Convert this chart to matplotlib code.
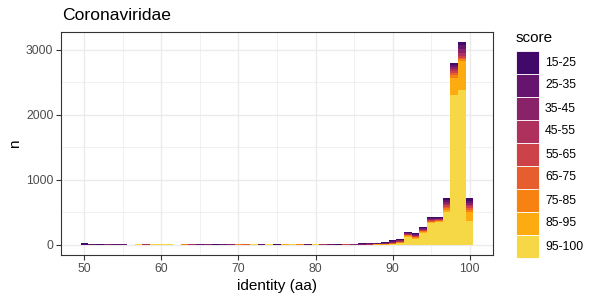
import numpy as np
import matplotlib
matplotlib.use('Agg')
import matplotlib.pyplot as plt
from matplotlib.patches import Rectangle

plt.rcParams['font.family'] = ['Liberation Sans', 'DejaVu Sans']

# identity bins (width 1)
identity = list(range(50, 101))
score_levels = ['15-25', '25-35', '35-45', '45-55', '55-65', '65-75', '75-85', '85-95', '95-100']

# counts per score class, bins 50..100
s15 = [35, 0, 12, 0, 0, 0, 0, 0, 0, 0,
       0, 0, 0, 0, 0, 0, 0, 15, 0, 0,
       0, 0, 0, 0, 0, 12, 0, 0, 0, 0,
       0, 0, 0, 14, 0, 8, 8, 8, 10, 10,
       12, 14, 14, 16, 16, 16, 14, 30, 30, 50, 35]
s25 = [0, 12, 0, 0, 10, 8, 0, 0, 0, 0,
       0, 0, 0, 0, 0, 15, 0, 0, 15, 0,
       0, 0, 0, 12, 0, 0, 0, 0, 0, 12,
       0, 0, 14, 0, 0, 6, 8, 8, 8, 10,
       12, 12, 12, 14, 14, 14, 12, 30, 35, 60, 35]
s35 = [0, 0, 0, 12, 0, 0, 0, 0, 0, 0,
       0, 0, 0, 0, 0, 0, 15, 0, 0, 12,
       0, 0, 0, 0, 0, 0, 0, 0, 0, 0,
       0, 0, 0, 0, 0, 6, 5, 6, 6, 8,
       10, 10, 10, 12, 12, 12, 10, 25, 35, 55, 30]
s45 = [0, 0, 0, 0, 0, 0, 0, 0, 12, 0,
       0, 0, 0, 0, 12, 0, 0, 0, 0, 0,
       0, 0, 0, 0, 0, 0, 0, 0, 0, 0,
       0, 14, 0, 0, 0, 0, 0, 4, 5, 6,
       8, 8, 8, 10, 10, 10, 9, 25, 30, 45, 25]
s55 = [0, 0, 0, 0, 0, 0, 0, 0, 0, 0,
       0, 0, 0, 0, 0, 0, 0, 0, 0, 0,
       0, 0, 0, 0, 0, 0, 0, 0, 0, 0,
       0, 0, 0, 0, 14, 0, 0, 0, 0, 4,
       6, 6, 7, 8, 8, 8, 8, 20, 30, 30, 25]
s65 = [0, 0, 0, 0, 0, 0, 0, 0, 0, 0,
       0, 0, 0, 0, 0, 0, 0, 0, 0, 0,
       0, 12, 0, 0, 0, 0, 0, 0, 0, 0,
       0, 0, 0, 0, 0, 0, 0, 0, 0, 0,
       5, 6, 7, 8, 8, 8, 8, 20, 30, 25, 25]
s75 = [0, 0, 0, 0, 0, 0, 0, 0, 0, 0,
       0, 0, 0, 12, 0, 0, 0, 0, 0, 0,
       12, 0, 0, 0, 0, 0, 0, 0, 12, 0,
       0, 0, 0, 0, 0, 0, 0, 0, 0, 0,
       5, 6, 8, 10, 12, 12, 10, 25, 40, 25, 34]
s85 = [0, 0, 0, 0, 0, 0, 0, 0, 0, 0,
       0, 0, 0, 0, 0, 0, 0, 0, 0, 0,
       0, 0, 0, 0, 0, 0, 12, 0, 0, 0,
       0, 0, 0, 0, 0, 0, 0, 0, 3, 3,
       6, 8, 10, 14, 16, 16, 14, 28, 260, 450, 137]
s95 = [0, 0, 0, 0, 0, 0, 0, 10, 0, 12,
       12, 12, 0, 0, 0, 0, 0, 0, 0, 0,
       0, 0, 12, 0, 12, 0, 0, 12, 0, 0,
       12, 0, 0, 0, 0, 0, 4, 4, 3, 4,
       6, 25, 127, 91, 178, 331, 346, 513, 2310, 2380, 370]

series = [s15, s25, s35, s45, s55, s65, s75, s85, s95]
colors = plt.cm.inferno(np.linspace(0.2, 0.9, 9))

W, H = 600, 300
fig = plt.figure(figsize=(6, 3), dpi=100)
ax = fig.add_axes([61 / W, 1 - 255 / H, (493 - 61) / W, (255 - 32) / H])

# stack: 95-100 at the bottom, 15-25 on top
bottom = np.zeros(len(identity))
for vals, col in list(zip(series, colors))[::-1]:
    v = np.array(vals, dtype=float)
    ax.bar(identity, v, width=1.0, bottom=bottom, color=col, linewidth=0, zorder=3)
    bottom += v

ymax = bottom.max()
ax.set_xlim(49.5 - 0.05 * 51, 100.5 + 0.05 * 51)
ax.set_ylim(-0.05 * ymax, 1.05 * ymax)

ax.set_xticks([50, 60, 70, 80, 90, 100])
ax.set_xticks([55, 65, 75, 85, 95], minor=True)
ax.set_yticks([0, 1000, 2000, 3000])
ax.set_yticks([500, 1500, 2500], minor=True)
ax.grid(True, which='major', color='#EBEBEB', linewidth=1.0, zorder=0)
ax.grid(True, which='minor', color='#EBEBEB', linewidth=0.5, zorder=0)
ax.tick_params(which='minor', length=0)
ax.tick_params(which='major', length=3.5, width=0.8, color='#333333',
               labelsize=8.8, labelcolor='#4D4D4D', pad=2)
for sp in ax.spines.values():
    sp.set_color('#333333')
    sp.set_linewidth(0.8)

ax.set_xlabel('identity (aa)', fontsize=11, labelpad=3)
ax.set_ylabel('n', fontsize=11, labelpad=3)
fig.text(62 / W, 1 - 15 / H, 'Coronaviridae', fontsize=12.6, ha='left', va='center')

# legend
fig.text(516 / W, 1 - 37.5 / H, 'score', fontsize=11, ha='left', va='center')
key_h = 23
for i, (lab, col) in enumerate(zip(score_levels, colors)):
    y0 = 51 + i * key_h
    fig.patches.append(Rectangle((516 / W, 1 - (y0 + key_h) / H), 23 / W, key_h / H,
                                 transform=fig.transFigure, facecolor=col,
                                 edgecolor='white', linewidth=0.6))
    fig.text(545 / W, 1 - (y0 + key_h / 2) / H, lab, fontsize=8.8,
             ha='left', va='center')

fig.savefig('out.png', dpi=100)
